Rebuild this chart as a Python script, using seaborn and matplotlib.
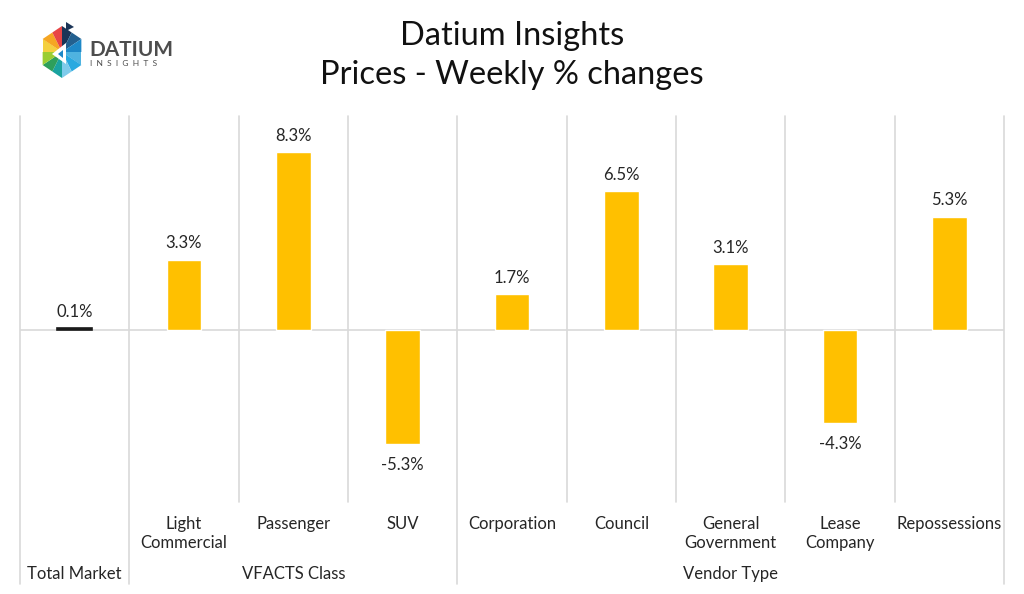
import matplotlib
matplotlib.use("Agg")
import matplotlib.pyplot as plt
import matplotlib.patches as mpatches
import numpy as np
import seaborn as sns

# ---- data ----
categories = ["Total Market", "Light Commercial", "Passenger", "SUV", "Corporation",
              "Council", "General Government", "Lease Company", "Repossessions"]
tick_labels = ["", "Light\nCommercial", "Passenger", "SUV", "Corporation",
               "Council", "General\nGovernment", "Lease\nCompany", "Repossessions"]
values = [0.1, 3.3, 8.3, -5.3, 1.7, 6.5, 3.1, -4.3, 5.3]
groups = ["Total Market", "VFACTS Class", "Vendor Type"]
group_members = [[0], [1, 2, 3], [4, 5, 6, 7, 8]]

title_lines = ["Datium Insights", "Prices - Weekly % changes"]

sns.set_theme(style="white")
plt.rcParams['font.family'] = ['Lato', 'DejaVu Sans']

W, H = 1024, 594
fig = plt.figure(figsize=(W / 100, H / 100), dpi=100)
ax_left, ax_right, ax_top, ax_bot = 20, 1004, 116, 502
ax = fig.add_axes([ax_left / W, (H - ax_bot) / H, (ax_right - ax_left) / W, (ax_bot - ax_top) / H])

bar_colors = ["#1a1a1a"] + ["#FFC000"] * (len(categories) - 1)
sns.barplot(x=categories, y=values, hue=categories, palette=bar_colors, width=0.32,
            saturation=1, legend=False, ax=ax, zorder=3)
# make the tiny Total Market bar visible like the reference
ax.patches[0].set_edgecolor("#1a1a1a")
ax.patches[0].set_linewidth(1.2)

ax.set_xlim(-0.5, len(categories) - 0.5)
ax.set_ylim(-8.0, 10.0)
for s in ax.spines.values():
    s.set_visible(False)
ax.set_yticks([])
ax.set_xticks([])
ax.set_xlabel("")
ax.set_ylabel("")

grid_c = "#d9d9d9"
ax.axhline(0, color=grid_c, lw=1.2, zorder=1)

# separators
group_edges = {-0.5, 0.5, 3.5, len(categories) - 0.5}
ext = (ax_bot - 584) / (ax_bot - ax_top)
for i in range(len(categories) + 1):
    xpos = i - 0.5
    y0 = ext if xpos in group_edges else 0
    ax.plot([xpos, xpos], [y0, 1], color=grid_c, lw=1.2,
            transform=ax.get_xaxis_transform(), clip_on=False, zorder=1)

# value labels
for i, v in enumerate(values):
    if v >= 0:
        ax.annotate(f"{v:.1f}%", (i, v), xytext=(0, 6), textcoords="offset points",
                    ha="center", va="bottom", fontsize=12, color="#262626")
    else:
        ax.annotate(f"{v:.1f}%", (i, v), xytext=(0, -9.5), textcoords="offset points",
                    ha="center", va="top", fontsize=12, color="#262626")

# category labels
trans = ax.get_xaxis_transform()
y_cat = (ax_bot - 516) / (ax_bot - ax_top)
for i, lab in enumerate(tick_labels):
    if lab:
        ax.text(i, y_cat, lab, transform=trans, ha="center", va="top",
                fontsize=12, color="#262626", linespacing=1.2)
y_grp = (ax_bot - 574) / (ax_bot - ax_top)
for g, members in zip(groups, group_members):
    ax.text(np.mean(members), y_grp, g, transform=trans, ha="center", va="center",
            fontsize=12, color="#262626")

# title
fig.text(0.5, 1 - 36 / H, title_lines[0], ha="center", va="center", fontsize=23.5, color="#111111")
fig.text(0.5, 1 - 75 / H, title_lines[1], ha="center", va="center", fontsize=23.5, color="#111111")

# logo
cx, cy, r = 62, 52, 26
def P(x, y):
    return (x / W, 1 - y / H)
angles = [90 - 60 * k for k in range(7)]  # pointy-top hexagon, clockwise from top
verts = [(cx + r * np.cos(np.radians(a)) * 0.86, cy - r * np.sin(np.radians(a))) for a in angles]
sector_cols = [("#1c3557", "#23608f"), ("#1e88c7", "#4fb3e0"), ("#29a9e0", "#7fcbeb"),
               ("#1aa3a0", "#2e9f5b"), ("#9acd32", "#f4d03f"), ("#f5a623", "#e84545")]
for k in range(6):
    v1, v2 = verts[k], verts[k + 1]
    mid = ((v1[0] + v2[0]) / 2, (v1[1] + v2[1]) / 2)
    c1, c2 = sector_cols[k]
    fig.patches.append(mpatches.Polygon([P(cx, cy), P(*v1), P(*mid)], closed=True,
                                        transform=fig.transFigure, color=c1, lw=0))
    fig.patches.append(mpatches.Polygon([P(cx, cy), P(*mid), P(*v2)], closed=True,
                                        transform=fig.transFigure, color=c2, lw=0))
fig.patches.append(mpatches.Polygon([P(cx - 10, cy + 2), P(cx + 4, cy - 9), P(cx + 4, cy + 12)],
                                    closed=True, transform=fig.transFigure, color="white", lw=0))
fig.patches.append(mpatches.Polygon([P(cx - 4, cy + 2), P(cx + 1, cy - 2), P(cx + 1, cy + 6)],
                                    closed=True, transform=fig.transFigure, color="#1e88c7", lw=0))
fig.patches.append(mpatches.Polygon([P(cx + 4, cy - 30), P(cx + 12, cy - 25), P(cx + 4, cy - 21)],
                                    closed=True, transform=fig.transFigure, color="#1c3557", lw=0))
fig.text(89 / W, 1 - 50 / H, "DATIUM", ha="left", va="center", fontsize=15,
         fontweight="bold", color="#4d4d4d")
fig.text(90 / W, 1 - 64 / H, "I  N  S  I  G  H  T  S", ha="left", va="center", fontsize=6,
         color="#4d4d4d")

fig.savefig("out.png", dpi=100)
